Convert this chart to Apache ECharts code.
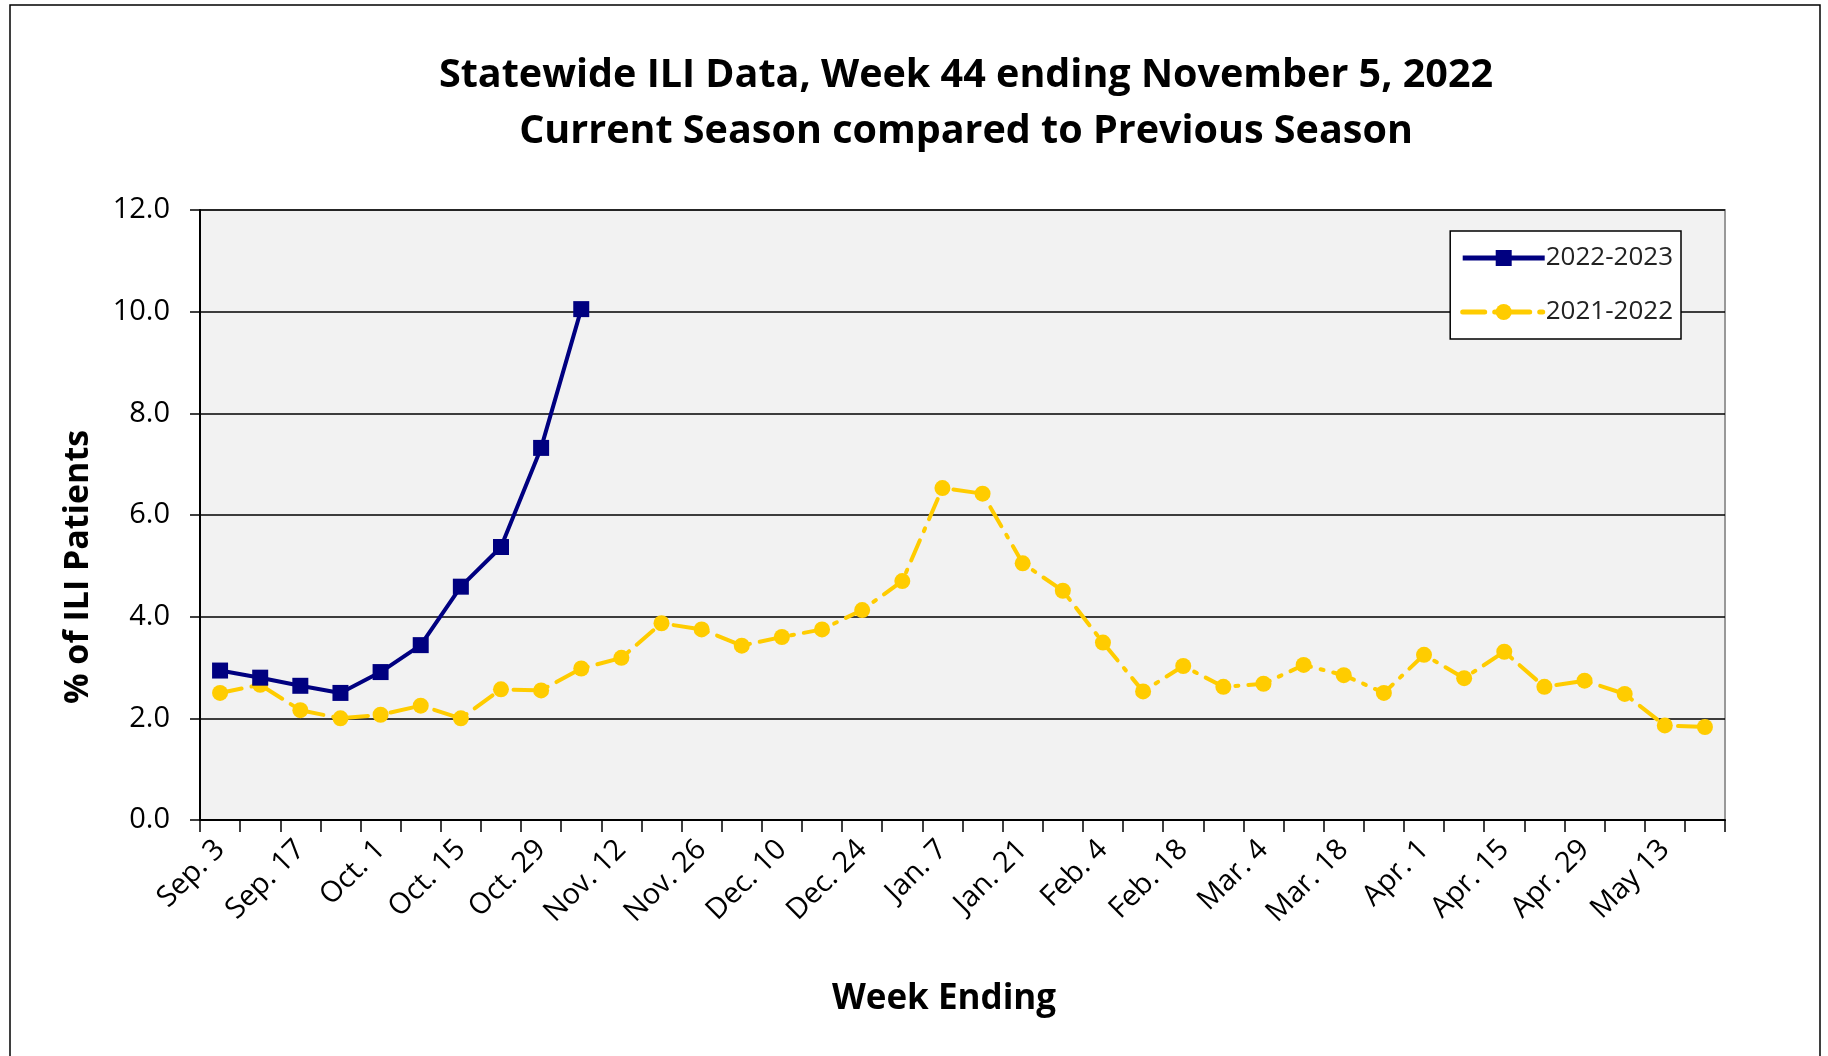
<!DOCTYPE html>
<html>
<head>
<meta charset="utf-8">
<script src="https://cdn.jsdelivr.net/npm/echarts@6/dist/echarts.min.js"></script>
<style>
html,body{margin:0;padding:0;background:#fff;}
#c{width:1828px;height:1056px;}
</style>
</head>
<body>
<div id="c"></div>
<script>
var weeks = ["Sep. 3","Sep. 10","Sep. 17","Sep. 24","Oct. 1","Oct. 8","Oct. 15","Oct. 22","Oct. 29","Nov. 5",
"Nov. 12","Nov. 19","Nov. 26","Dec. 3","Dec. 10","Dec. 17","Dec. 24","Dec. 31","Jan. 7","Jan. 14",
"Jan. 21","Jan. 28","Feb. 4","Feb. 11","Feb. 18","Feb. 25","Mar. 4","Mar. 11","Mar. 18","Mar. 25",
"Apr. 1","Apr. 8","Apr. 15","Apr. 22","Apr. 29","May 6","May 13","May 20"];
var season2022_2023 = [2.94,2.80,2.64,2.50,2.91,3.44,4.59,5.37,7.32,10.05];
var season2021_2022 = [2.50,2.66,2.16,2.00,2.07,2.25,2.00,2.57,2.55,2.98,
3.19,3.87,3.75,3.43,3.60,3.75,4.13,4.70,6.53,6.42,
5.05,4.51,3.49,2.53,3.03,2.62,2.68,3.05,2.85,2.50,
3.25,2.79,3.31,2.62,2.74,2.48,1.86,1.83];
var yTicks = [0,2,4,6,8,10,12];

var chart = echarts.init(document.getElementById('c'));
var FONT = 'Open Sans';
chart.setOption({
  animation:false,
  backgroundColor:'#ffffff',
  title:{
    text:'Statewide ILI Data, Week 44 ending November 5, 2022\nCurrent Season compared to Previous Season',
    left:961, top:43, textAlign:'center',
    textStyle:{fontFamily:FONT,fontWeight:'bold',fontSize:39.5,color:'#000',lineHeight:56}
  },
  legend:{
    right:147, top:231,
    orient:'vertical',
    backgroundColor:'#ffffff',
    borderColor:'#000', borderWidth:1.5,
    padding:[14,8,14,10],
    itemWidth:82, itemHeight:20, itemGap:28,
    textStyle:{fontFamily:FONT,fontSize:26,color:'#222',padding:[0,0,0,-4]},
    data:[
      {name:'2022-2023',lineStyle:{width:5}},
      {name:'2021-2022',lineStyle:{width:5}}
    ]
  },
  grid:{left:200,right:103,top:210,bottom:236,show:true,backgroundColor:'#F2F2F2',borderColor:'#999',borderWidth:2},
  xAxis:{
    type:'category', data:weeks, boundaryGap:true,
    axisLine:{lineStyle:{color:'#000',width:2}},
    axisTick:{show:true,interval:0,length:12,lineStyle:{color:'#000',width:1.5}},
    axisLabel:{interval:1,rotate:45,fontFamily:FONT,fontSize:29,color:'#000',margin:25},
    splitLine:{show:false}
  },
  yAxis:{
    type:'value', min:yTicks[0], max:yTicks[yTicks.length-1], interval:2,
    axisLine:{show:true,lineStyle:{color:'#000',width:2}},
    axisTick:{show:true,length:10,lineStyle:{color:'#000',width:1.5}},
    axisLabel:{fontFamily:FONT,fontSize:29,color:'#000',margin:30,formatter:function(v){return v.toFixed(1);}},
    splitLine:{show:true,lineStyle:{color:'#000',width:1.5}}
  },
  graphic:[
    {type:'rect',shape:{x:10,y:5,width:1810,height:1060},style:{fill:'none',stroke:'#000',lineWidth:1.5},silent:true,z:-10},
    {type:'text',x:78,y:567,rotation:Math.PI/2,style:{text:'% of ILI Patients',fontFamily:FONT,fontWeight:'bold',fontSize:34,fill:'#000',textAlign:'center',textVerticalAlign:'middle'}},
    {type:'text',x:944,y:999,style:{text:'Week Ending',fontFamily:FONT,fontWeight:'bold',fontSize:35,fill:'#000',textAlign:'center',textVerticalAlign:'middle'}}
  ],
  series:[
    {
      name:'2022-2023', type:'line', data:season2022_2023,
      symbol:'rect', symbolSize:16,
      itemStyle:{color:'#000080'},
      lineStyle:{color:'#000080',width:4},
      z:5
    },
    {
      name:'2021-2022', type:'line', data:season2021_2022,
      symbol:'circle', symbolSize:16,
      itemStyle:{color:'#FFCC00'},
      lineStyle:{color:'#FFCC00',width:4,type:[22,10,3,10],cap:'round'},
      z:4
    }
  ]
});
</script>
</body>
</html>
